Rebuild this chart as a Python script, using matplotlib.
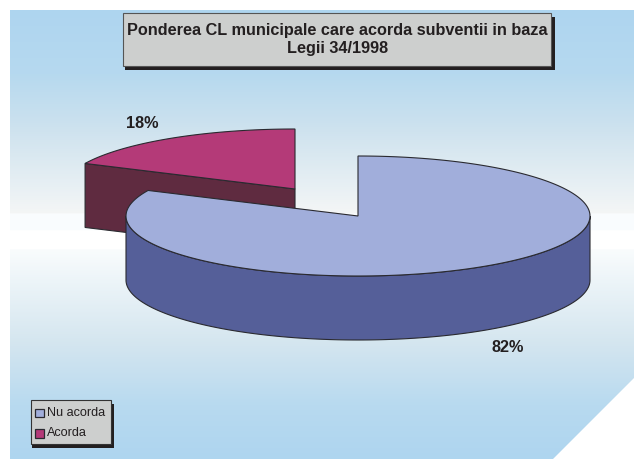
import numpy as np
import matplotlib
matplotlib.use('Agg')
import matplotlib.pyplot as plt
from matplotlib.colors import LinearSegmentedColormap
from matplotlib.patches import Polygon, Rectangle

title = 'Ponderea CL municipale care acorda subventii in baza\nLegii 34/1998'
categories = ['Nu acorda', 'Acorda']
values = [82, 18]
labels = ['82%', '18%']

plt.rcParams['font.family'] = ['Liberation Sans', 'DejaVu Sans']

BLUE = '#a1aedb'
BLUE_SIDE = '#555f99'
RED = '#b43a78'
RED_SIDE = '#5f2b40'
EDGE = '#2a2a30'
GREY = '#cdcfce'
DARK = '#231f20'

fig = plt.figure(figsize=(6.34, 4.59), dpi=100)
ax = fig.add_axes([0, 0, 1, 1])
ax.set_xlim(0, 634)
ax.set_ylim(459, 0)
ax.axis('off')

# background gradient, clipped to a panel with the corner cut off
grad = LinearSegmentedColormap.from_list('bg', [
    (0.0, '#aed5ef'), (0.14, '#b6d9ef'), (0.25, '#cbe1ee'), (0.451, '#f4f6f6'),
    (0.452, '#f9fcfe'), (0.489, '#f9fcfe'), (0.49, '#ffffff'), (0.534, '#ffffff'),
    (0.535, '#f9fcfd'), (0.75, '#d3e5ef'), (0.88, '#b8daf0'), (1.0, '#aed5ef')], N=1024)
img = ax.imshow(np.linspace(0, 1, 450).reshape(-1, 1), cmap=grad, aspect='auto',
                extent=(10, 634, 459, 10), zorder=0, interpolation='nearest')
panel = Polygon([(10, 10), (634, 10), (634, 378), (553, 459), (10, 459)],
                closed=True, transform=ax.transData, fc='none', ec='none')
ax.add_patch(panel)
img.set_clip_path(panel)
ax.set_xlim(0, 634)
ax.set_ylim(459, 0)


def ellipse(cx, cy, rx, ry, a0, a1):
    t = np.radians(np.linspace(a0, a1, 200))
    return np.column_stack([cx + rx * np.cos(t), cy - ry * np.sin(t)])


RX, RY, DEPTH = 232, 60, 64
total = sum(values)
sweep_red = 360 * values[1] / total
end_red = 90 + sweep_red

# exploded slice (Acorda), behind the big one
cx, cy = 295, 189
arc = ellipse(cx, cy, RX, RY, 90, end_red)
tip = arc[-1]
ax.add_patch(Polygon([tip, (cx, cy), (cx, cy + DEPTH), (tip[0], tip[1] + DEPTH)],
                     closed=True, fc=RED_SIDE, ec=EDGE, lw=0.8, zorder=2))
ax.add_patch(Polygon(np.vstack([arc, [(cx, cy)]]), closed=True, fc=RED, ec=EDGE, lw=0.8, zorder=3))

# big slice (Nu acorda)
cx, cy = 358, 216
front = ellipse(cx, cy, RX, RY, 180, 360)
side = np.vstack([front, (front + [0, DEPTH])[::-1]])
ax.add_patch(Polygon(side, closed=True, fc=BLUE_SIDE, ec=EDGE, lw=0.8, zorder=4))
arc = ellipse(cx, cy, RX, RY, 90, end_red - 360)
ax.add_patch(Polygon(np.vstack([arc, [(cx, cy)]]), closed=True, fc=BLUE, ec=EDGE, lw=0.8, zorder=5))

# title box
ax.add_patch(Rectangle((125, 16.5), 430, 53, fc=DARK, ec='none', zorder=6))
ax.add_patch(Rectangle((122.5, 13), 428.5, 53, fc=GREY, ec='#555555', lw=0.8, zorder=7))
ax.text(337.5, 39.5, title, ha='center', va='center', fontsize=11.7, fontweight='bold',
        color=DARK, linespacing=1.27, zorder=8)

# data labels
ax.text(142, 124, labels[1], ha='center', va='center', fontsize=11.7, fontweight='bold', color=DARK, zorder=8)
ax.text(507.5, 347, labels[0], ha='center', va='center', fontsize=11.7, fontweight='bold', color=DARK, zorder=8)

# legend
ax.add_patch(Rectangle((32, 403.5), 82, 44.5, fc=DARK, ec='none', zorder=6))
ax.add_patch(Rectangle((30.5, 400), 80, 44, fc=GREY, ec='#333333', lw=0.8, zorder=7))
for name, col, y in zip(categories, [BLUE, RED], [412.7, 433.5]):
    ax.add_patch(Rectangle((35.2, y - 4.2), 8.4, 8.4, fc=col, ec=EDGE, lw=0.9, zorder=8))
    ax.text(47, y, name, ha='left', va='center', fontsize=9.1, color=DARK, zorder=8)

fig.savefig('out.png', dpi=100)
